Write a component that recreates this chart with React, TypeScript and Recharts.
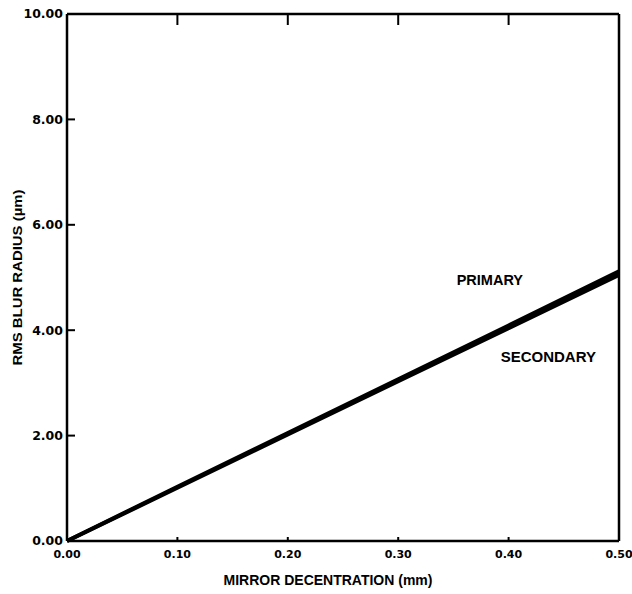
import React from 'react';
import { LineChart, Line, XAxis, YAxis, ReferenceDot } from 'recharts';

const decentration = [0, 0.1, 0.2, 0.3, 0.4, 0.5];
const primary = [0, 1.03, 2.05, 3.07, 4.09, 5.12];
const secondary = [0, 1.01, 2.02, 3.03, 4.04, 5.05];
const xTicks = [0, 0.1, 0.2, 0.3, 0.4, 0.5];
const yTicks = [0, 2, 4, 6, 8, 10];
const labelPrimary = { x: 0.383, y: 4.95, text: 'PRIMARY' };
const labelSecondary = { x: 0.436, y: 3.5, text: 'SECONDARY' };

const data = decentration.map((d, i) => ({ d, primary: primary[i], secondary: secondary[i] }));

const sans = "'Liberation Sans', Arial, sans-serif";
const heavy = "'DejaVu Sans', Verdana, sans-serif";
const axisLine = { stroke: '#000', strokeWidth: 2.5 };

const LeftTick = (props: any) => {
  const { x, y, payload } = props;
  const ax = x + 4; // axis position (tickMargin 4)
  return (
    <g>
      <line x1={ax} x2={ax + 8} y1={y} y2={y} stroke="#000" strokeWidth={2} />
      <text x={x} y={y} dy="0.35em" textAnchor="end" fill="#000" fontSize={12.5} fontWeight={700} fontFamily={heavy}>
        {payload.value.toFixed(2)}
      </text>
    </g>
  );
};

const BottomTick = (props: any) => {
  const { x, y, payload } = props;
  const ay = y - 8; // axis position (tickMargin 8)
  return (
    <g>
      <line x1={x} x2={x} y1={ay} y2={ay - 4} stroke="#000" strokeWidth={2} />
      <text x={x} y={y} dy="0.85em" textAnchor="middle" fill="#000" fontSize={11} fontWeight={700} fontFamily={heavy}>
        {payload.value.toFixed(2)}
      </text>
    </g>
  );
};

const TopTick = (props: any) => {
  const { x, y } = props;
  return <line x1={x} x2={x} y1={y} y2={y + 11} stroke="#000" strokeWidth={2} />;
};

const RightTick = (props: any) => {
  const { x, y } = props;
  return <line x1={x} x2={x - 10} y1={y} y2={y} stroke="#000" strokeWidth={2} />;
};

const YLabel = (props: any) => {
  const vb = props.viewBox || {};
  const cx = 18;
  const cy = vb.y + vb.height / 2;
  return (
    <text
      x={cx}
      y={cy}
      transform={`rotate(-90, ${cx}, ${cy})`}
      textAnchor="middle"
      dominantBaseline="central"
      fill="#000"
      fontSize={12}
      fontWeight={700}
      fontFamily={sans}
      textLength={176}
      lengthAdjust="spacingAndGlyphs"
    >
      RMS BLUR RADIUS (µm)
    </text>
  );
};

export default function App() {
  return (
    <div style={{ position: 'absolute', left: 0, top: 0, background: '#fff' }}>
      <LineChart width={632} height={594} data={data} margin={{ top: 13, right: 12, left: 7, bottom: 23 }}>
        <XAxis
          xAxisId="bottom"
          dataKey="d"
          type="number"
          domain={[0, 0.5]}
          ticks={xTicks}
          tick={<BottomTick />}
          axisLine={axisLine}
          tickLine={false}
          tickSize={0}
          tickMargin={8}
          height={30}
          label={{ value: 'MIRROR DECENTRATION (mm)', position: 'insideBottom', offset: -14, dx: -15, style: { fill: '#000', fontSize: 14, fontWeight: 700, fontFamily: sans } }}
        />
        <XAxis
          xAxisId="top"
          orientation="top"
          dataKey="d"
          type="number"
          domain={[0, 0.5]}
          ticks={xTicks}
          tick={<TopTick />}
          axisLine={axisLine}
          tickLine={false}
          tickSize={0}
          tickMargin={0}
          height={1}
        />
        <YAxis
          yAxisId="left"
          type="number"
          domain={[0, 10]}
          ticks={yTicks}
          tick={<LeftTick />}
          axisLine={axisLine}
          tickLine={false}
          tickSize={0}
          tickMargin={4}
          width={60}
          label={<YLabel />}
        />
        <YAxis
          yAxisId="right"
          orientation="right"
          type="number"
          domain={[0, 10]}
          ticks={yTicks}
          tick={<RightTick />}
          axisLine={axisLine}
          tickLine={false}
          tickSize={0}
          tickMargin={0}
          width={1}
        />
        <Line xAxisId="bottom" yAxisId="left" dataKey="primary" stroke="#000" strokeWidth={4} dot={false} isAnimationActive={false} />
        <Line xAxisId="bottom" yAxisId="left" dataKey="secondary" stroke="#000" strokeWidth={4} dot={false} isAnimationActive={false} />
        <ReferenceDot xAxisId="bottom" yAxisId="left" x={labelPrimary.x} y={labelPrimary.y} r={0} stroke="none" fill="none"
          label={{ value: labelPrimary.text, position: 'center', style: { fill: '#000', fontSize: 14.5, fontWeight: 700, fontFamily: sans } }} />
        <ReferenceDot xAxisId="bottom" yAxisId="left" x={labelSecondary.x} y={labelSecondary.y} r={0} stroke="none" fill="none"
          label={{ value: labelSecondary.text, position: 'center', style: { fill: '#000', fontSize: 15, fontWeight: 700, fontFamily: sans } }} />
      </LineChart>
    </div>
  );
}
